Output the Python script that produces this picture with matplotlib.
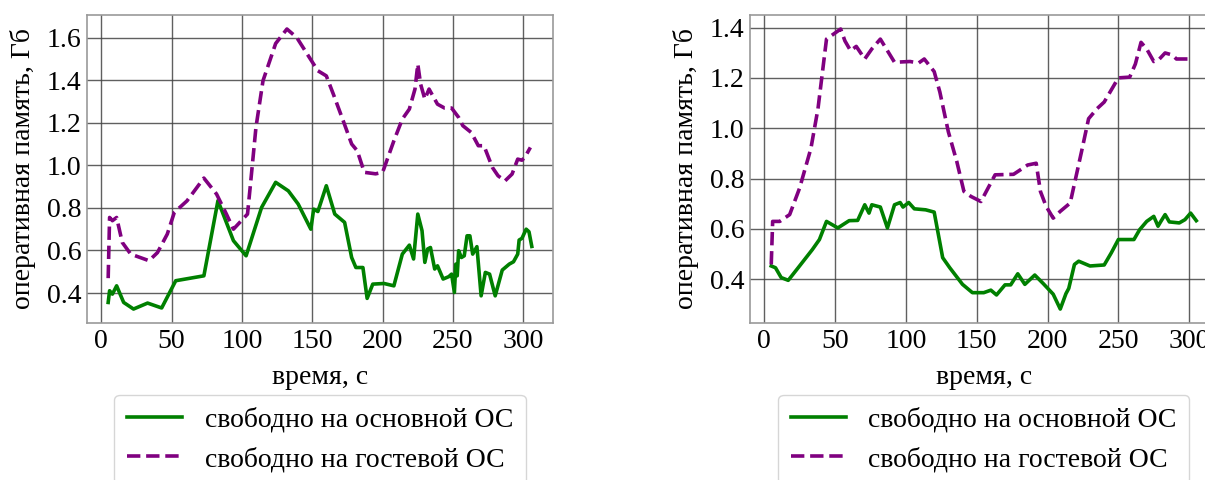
import matplotlib
matplotlib.use('Agg')
import matplotlib.pyplot as plt

plt.rcParams['font.family'] = ['Liberation Serif', 'DejaVu Serif']
plt.rcParams['font.size'] = 20

# --- left run: time (s) and free memory (GB) ---
t_host_a = [5, 6, 8, 11, 16, 23, 33, 43, 53, 73, 83, 94, 103, 114, 124, 133, 140, 149, 151, 154,
            160, 166, 173, 178, 181, 186, 189, 193, 201, 208, 214, 219, 222, 225, 228, 230, 232,
            234, 237, 239, 243, 247, 249, 251, 252, 253, 254, 256, 258, 260, 262, 264, 267, 270,
            273, 276, 280, 285, 290, 293, 296, 297, 299, 302, 304, 306]
m_host_a = [0.356, 0.411, 0.395, 0.434, 0.356, 0.325, 0.353, 0.33, 0.458, 0.481, 0.834, 0.646,
            0.575, 0.802, 0.92, 0.88, 0.818, 0.70, 0.794, 0.783, 0.904, 0.771, 0.732, 0.567, 0.52,
            0.52, 0.375, 0.442, 0.445, 0.434, 0.583, 0.625, 0.56, 0.771, 0.693, 0.544, 0.607,
            0.614, 0.513, 0.528, 0.466, 0.477, 0.489, 0.403, 0.536, 0.481, 0.599, 0.567, 0.575,
            0.669, 0.669, 0.583, 0.618, 0.387, 0.497, 0.489, 0.387, 0.508, 0.536, 0.547, 0.583,
            0.649, 0.657, 0.70, 0.688, 0.619]

t_guest_a = [5, 6, 8, 11, 15, 21, 34, 40, 47, 52, 61, 73, 82, 89, 94, 104, 106, 110, 115, 124,
             132, 139, 148, 154, 160, 165, 172, 178, 182, 187, 195, 200, 208, 214, 219, 223, 225,
             227, 230, 233, 235, 239, 244, 249, 254, 257, 263, 268, 272, 278, 282, 287, 292, 296,
             299, 301, 305]
m_guest_a = [0.47, 0.755, 0.74, 0.755, 0.638, 0.583, 0.552, 0.59, 0.677, 0.779, 0.833, 0.94,
             0.865, 0.771, 0.70, 0.771, 0.904, 1.178, 1.397, 1.572, 1.64, 1.60, 1.506, 1.444,
             1.42, 1.334, 1.209, 1.10, 1.068, 0.967, 0.96, 0.967, 1.115, 1.217, 1.264, 1.358,
             1.475, 1.381, 1.311, 1.358, 1.334, 1.287, 1.269, 1.269, 1.225, 1.186, 1.154, 1.092,
             1.092, 0.99, 0.951, 0.927, 0.959, 1.029, 1.024, 1.037, 1.084]

# --- right run ---
t_host_b = [5, 8, 12, 17, 24, 34, 39, 44, 52, 60, 66, 71, 74, 76, 82, 87, 92, 96, 98, 102, 106,
            114, 120, 126, 131, 140, 147, 155, 160, 164, 170, 174, 179, 184, 191, 197, 204, 209,
            213, 215, 219, 222, 230, 240, 245, 250, 261, 265, 270, 275, 278, 280, 283, 286, 293,
            297, 301, 305]
m_host_b = [0.453, 0.446, 0.407, 0.396, 0.446, 0.518, 0.558, 0.63, 0.604, 0.633, 0.634, 0.696,
            0.663, 0.696, 0.687, 0.604, 0.696, 0.705, 0.687, 0.705, 0.68, 0.676, 0.667, 0.486,
            0.446, 0.38, 0.347, 0.347, 0.357, 0.338, 0.378, 0.378, 0.422, 0.38, 0.417, 0.383,
            0.341, 0.282, 0.343, 0.364, 0.459, 0.472, 0.453, 0.457, 0.505, 0.558, 0.558, 0.597,
            0.63, 0.65, 0.611, 0.63, 0.657, 0.628, 0.624, 0.637, 0.663, 0.633]

t_guest_b = [5, 6, 11, 18, 25, 33, 38, 44, 49, 54, 57, 61, 65, 71, 76, 82, 87, 92, 103, 109, 113,
             120, 124, 130, 136, 141, 146, 153, 158, 163, 176, 186, 192, 195, 199, 204, 209, 216,
             224, 229, 235, 240, 250, 258, 262, 266, 270, 275, 279, 283, 288, 291, 301]
m_guest_b = [0.459, 0.63, 0.63, 0.657, 0.762, 0.92, 1.078, 1.354, 1.374, 1.394, 1.347, 1.308,
             1.325, 1.275, 1.315, 1.354, 1.308, 1.262, 1.265, 1.259, 1.275, 1.225, 1.144, 0.986,
             0.867, 0.749, 0.729, 0.709, 0.762, 0.815, 0.817, 0.854, 0.861, 0.749, 0.69, 0.643,
             0.67, 0.703, 0.907, 1.038, 1.078, 1.104, 1.2, 1.203, 1.255, 1.341, 1.315, 1.265,
             1.275, 1.299, 1.291, 1.275, 1.275]

x_ticks = [0, 50, 100, 150, 200, 250, 300]
y_ticks_a = [0.4, 0.6, 0.8, 1.0, 1.2, 1.4, 1.6]
y_ticks_b = [0.4, 0.6, 0.8, 1.0, 1.2, 1.4]

host_label = 'свободно на основной ОС'
guest_label = 'свободно на гостевой ОС'
x_label = 'время, с'
y_label = 'оперативная память, Гб'


def draw_panel(ax, t_host, m_host, t_guest, m_guest, y_ticks):
    ax.plot(t_host, m_host, '-', color='green', lw=2.6, label=host_label)
    ax.plot(t_guest, m_guest, '--', color='purple', lw=2.6, label=guest_label)
    ax.set_xticks(x_ticks)
    ax.set_yticks(y_ticks)
    ax.set_yticklabels([f'{v:.1f}' for v in y_ticks])
    ax.grid(True, color='#444444', lw=1.0, alpha=0.85)
    ax.set_axisbelow(True)
    for sp in ax.spines.values():
        sp.set_color('#9a9a9a')
        sp.set_linewidth(1.2)
    ax.tick_params(length=0, pad=4)
    ax.set_xlabel(x_label, labelpad=8)
    ax.set_ylabel(y_label, labelpad=8)
    ax.legend(loc='upper center', bbox_to_anchor=(0.5, -0.233), ncol=1,
              borderaxespad=0, handlelength=2.0, borderpad=0.45,
              labelspacing=0.5, fontsize=20)


fig = plt.figure(figsize=(12.05, 4.8), dpi=100)
ax1 = fig.add_axes([0.0722, 0.327, 0.3867, 0.6417])
ax2 = fig.add_axes([0.6224, 0.327, 0.388, 0.6417])

draw_panel(ax1, t_host_a, m_host_a, t_guest_a, m_guest_a, y_ticks_a)
draw_panel(ax2, t_host_b, m_host_b, t_guest_b, m_guest_b, y_ticks_b)

fig.savefig('out.png', dpi=100)
